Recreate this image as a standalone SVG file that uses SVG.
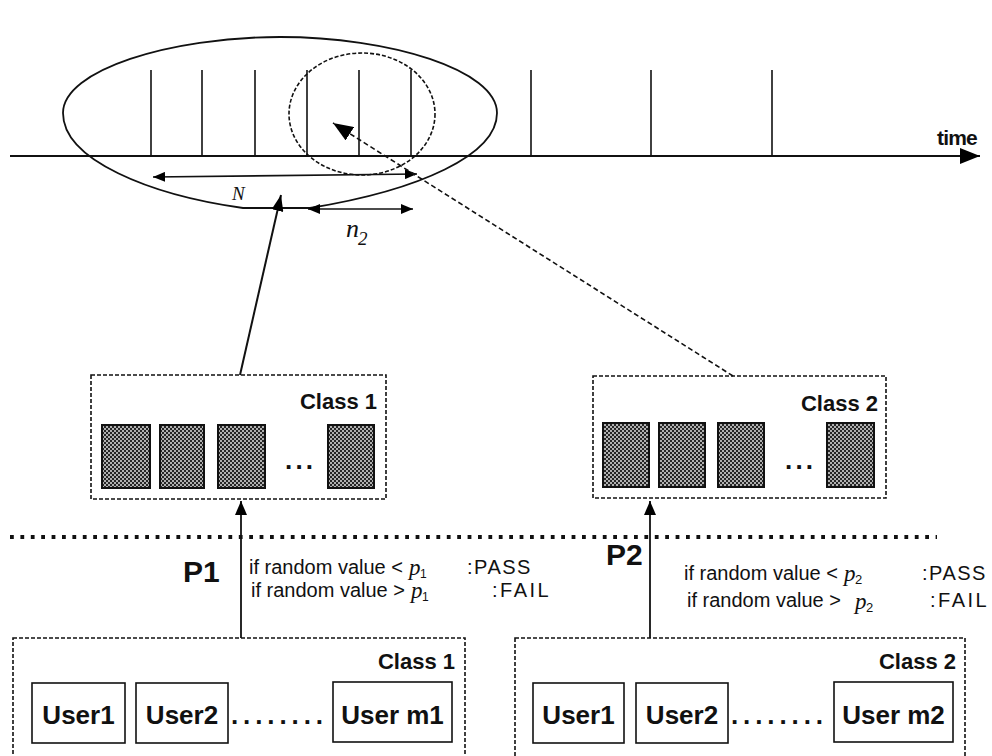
<svg xmlns="http://www.w3.org/2000/svg" width="992" height="756" viewBox="0 0 992 756">
  <defs>
    <!-- fine checker fill for queued packets -->
    <pattern id="checker" width="4" height="4" patternUnits="userSpaceOnUse">
      <rect width="4" height="4" fill="#262626"/>
      <rect width="2" height="2" fill="#b0b0b0"/>
      <rect x="2" y="2" width="2" height="2" fill="#b0b0b0"/>
    </pattern>
    <marker id="head-s" viewBox="0 0 12 10" refX="12" refY="5" markerWidth="12" markerHeight="10" markerUnits="userSpaceOnUse" orient="auto-start-reverse">
      <path d="M0,0 L12,5 L0,10 Z" fill="#000"/>
    </marker>
    <marker id="head-v" viewBox="0 0 14 12" refX="14" refY="6" markerWidth="14" markerHeight="12" markerUnits="userSpaceOnUse" orient="auto">
      <path d="M0,0 L14,6 L0,12 Z" fill="#000"/>
    </marker>
    <marker id="head-m" viewBox="0 0 16 12" refX="16" refY="6" markerWidth="16" markerHeight="12" markerUnits="userSpaceOnUse" orient="auto">
      <path d="M0,0 L16,6 L0,12 Z" fill="#000"/>
    </marker>
    <marker id="head-l" viewBox="0 0 20 16" refX="20" refY="8" markerWidth="20" markerHeight="16" markerUnits="userSpaceOnUse" orient="auto">
      <path d="M0,0 L20,8 L0,16 Z" fill="#000"/>
    </marker>
  </defs>
  <style>
    .sans { font-family: "Liberation Sans", Arial, sans-serif; fill: #111; }
    .bold { font-weight: bold; }
    .rule { font-size: 20px; }
    .math { font-family: "Liberation Serif", "Times New Roman", serif; font-style: italic; fill: #111; }
    .solid { fill: none; stroke: #111; stroke-width: 1.8; }
    .dash { fill: none; stroke: #111; stroke-width: 1.6; stroke-dasharray: 4 2; }
    .packet { fill: url(#checker); stroke: #111; stroke-width: 2; }
    .user { fill: #fff; stroke: #111; stroke-width: 1.6; }
    .tick { stroke: #111; stroke-width: 1.6; }
  </style>

  <rect width="992" height="756" fill="#fff"/>

  <!-- time axis with slot ticks -->
  <g id="timeline">
    <line x1="10" y1="156" x2="980" y2="156" stroke="#111" stroke-width="2" marker-end="url(#head-l)"/>
    <line class="tick" x1="151" y1="70" x2="151" y2="156"/>
    <line class="tick" x1="202" y1="70" x2="202" y2="156"/>
    <line class="tick" x1="255" y1="70" x2="255" y2="156"/>
    <line class="tick" x1="307" y1="70" x2="307" y2="156"/>
    <line class="tick" x1="359" y1="70" x2="359" y2="156"/>
    <line class="tick" x1="411" y1="70" x2="411" y2="156"/>
    <line class="tick" x1="531" y1="70" x2="531" y2="156"/>
    <line class="tick" x1="651" y1="70" x2="651" y2="156"/>
    <line class="tick" x1="772" y1="70" x2="772" y2="156"/>
    <text class="sans bold" x="937" y="145" font-size="21" letter-spacing="-0.8">time</text>
  </g>

  <!-- observation window of N slots and the n2 sub-window -->
  <g id="window">
    <path class="solid" d="M63,113 C63,70 170,37 280,37 C390,37 497,70 497,113 C497,155 420,190 310,208 L243,208 C150,195 63,160 63,113 Z"/>
    <ellipse class="dash" cx="362" cy="114" rx="73" ry="61"/>
    <line x1="153" y1="177" x2="417" y2="174" stroke="#111" stroke-width="1.6" marker-start="url(#head-s)" marker-end="url(#head-s)"/>
    <text class="math" x="232" y="200" font-size="19">N</text>
    <line x1="308" y1="209" x2="413" y2="209" stroke="#111" stroke-width="1.6" marker-start="url(#head-s)" marker-end="url(#head-s)"/>
    <text class="math" x="346" y="237" font-size="26">n</text>
    <text class="math" x="358" y="245" font-size="19" font-style="normal">2</text>
  </g>

  <!-- class 1 packet queue -->
  <g id="class1-queue">
    <rect class="dash" x="91" y="375" width="295" height="124"/>
    <text class="sans bold" x="377" y="409" font-size="22" text-anchor="end">Class 1</text>
    <rect class="packet" x="102" y="425" width="48" height="63"/>
    <rect class="packet" x="160" y="425" width="44" height="63"/>
    <rect class="packet" x="218" y="425" width="47" height="63"/>
    <text class="sans bold" x="285" y="469" font-size="26" textLength="28">...</text>
    <rect class="packet" x="328" y="425" width="46" height="63"/>
  </g>

  <!-- class 2 packet queue -->
  <g id="class2-queue">
    <rect class="dash" x="593" y="376" width="293" height="122"/>
    <text class="sans bold" x="878" y="411" font-size="22" text-anchor="end">Class 2</text>
    <rect class="packet" x="603" y="423" width="46" height="64"/>
    <rect class="packet" x="659" y="423" width="46" height="64"/>
    <rect class="packet" x="718" y="423" width="46" height="64"/>
    <text class="sans bold" x="785" y="469" font-size="26" textLength="28">...</text>
    <rect class="packet" x="827" y="423" width="47" height="64"/>
  </g>

  <!-- boundary between user side and scheduler -->
  <line id="separator" x1="10" y1="537" x2="937" y2="537" stroke="#111" stroke-width="3.8" stroke-dasharray="3.8 6.6"/>

  <!-- admission rules -->
  <g id="p1-rule">
    <text class="sans bold" x="183" y="582" font-size="30">P1</text>
    <text class="sans rule" x="249" y="574">if random value &lt;</text>
    <text class="math" x="409" y="575" font-size="23">p</text>
    <text class="sans" x="420" y="578" font-size="12">1</text>
    <text class="sans rule" x="467" y="574" letter-spacing="1.5">:PASS</text>
    <text class="sans rule" x="251" y="597">if random value &gt;</text>
    <text class="math" x="411" y="598" font-size="23">p</text>
    <text class="sans" x="422" y="601" font-size="12">1</text>
    <text class="sans rule" x="492" y="597" letter-spacing="2.5">:FAIL</text>
  </g>
  <g id="p2-rule">
    <text class="sans bold" x="606" y="565" font-size="30">P2</text>
    <text class="sans rule" x="684" y="580">if random value &lt;</text>
    <text class="math" x="844" y="581" font-size="23">p</text>
    <text class="sans" x="855" y="584" font-size="13">2</text>
    <text class="sans rule" x="922" y="580" letter-spacing="1.5">:PASS</text>
    <text class="sans rule" x="687" y="607">if random value &gt;</text>
    <text class="math" x="855" y="609" font-size="23">p</text>
    <text class="sans" x="866" y="612" font-size="13">2</text>
    <text class="sans rule" x="930" y="607" letter-spacing="2.5">:FAIL</text>
  </g>

  <!-- class 1 users -->
  <g id="class1-users">
    <rect class="dash" x="13" y="638" width="452" height="140"/>
    <text class="sans bold" x="455" y="669" font-size="22" text-anchor="end">Class 1</text>
    <rect class="user" x="32" y="683" width="93" height="60"/>
    <text class="sans bold" x="78.5" y="724" font-size="26" text-anchor="middle">User1</text>
    <rect class="user" x="136" y="683" width="92" height="60"/>
    <text class="sans bold" x="182" y="724" font-size="26" text-anchor="middle">User2</text>
    <text class="sans bold" x="231" y="724" font-size="26" textLength="92">........</text>
    <rect class="user" x="333" y="682" width="119" height="60"/>
    <text class="sans bold" x="392.5" y="724" font-size="26" text-anchor="middle">User m1</text>
  </g>

  <!-- class 2 users -->
  <g id="class2-users">
    <rect class="dash" x="515" y="638" width="450" height="140"/>
    <text class="sans bold" x="956" y="669" font-size="22" text-anchor="end">Class 2</text>
    <rect class="user" x="533" y="683" width="91" height="60"/>
    <text class="sans bold" x="578.5" y="724" font-size="26" text-anchor="middle">User1</text>
    <rect class="user" x="636" y="683" width="92" height="60"/>
    <text class="sans bold" x="682" y="724" font-size="26" text-anchor="middle">User2</text>
    <text class="sans bold" x="731" y="724" font-size="26" textLength="92">........</text>
    <rect class="user" x="834" y="682" width="119" height="60"/>
    <text class="sans bold" x="893.5" y="724" font-size="26" text-anchor="middle">User m2</text>
  </g>

  <!-- connectors -->
  <g id="connectors">
    <line x1="241" y1="638" x2="241" y2="501" stroke="#111" stroke-width="1.8" marker-end="url(#head-v)"/>
    <line x1="650" y1="638" x2="650" y2="501" stroke="#111" stroke-width="1.8" marker-end="url(#head-v)"/>
    <line x1="240" y1="375" x2="281" y2="195" stroke="#111" stroke-width="2" marker-end="url(#head-m)"/>
    <line x1="733" y1="376" x2="333" y2="123" stroke="#111" stroke-width="1.6" stroke-dasharray="5 3" marker-end="url(#head-l)"/>
  </g>
</svg>
